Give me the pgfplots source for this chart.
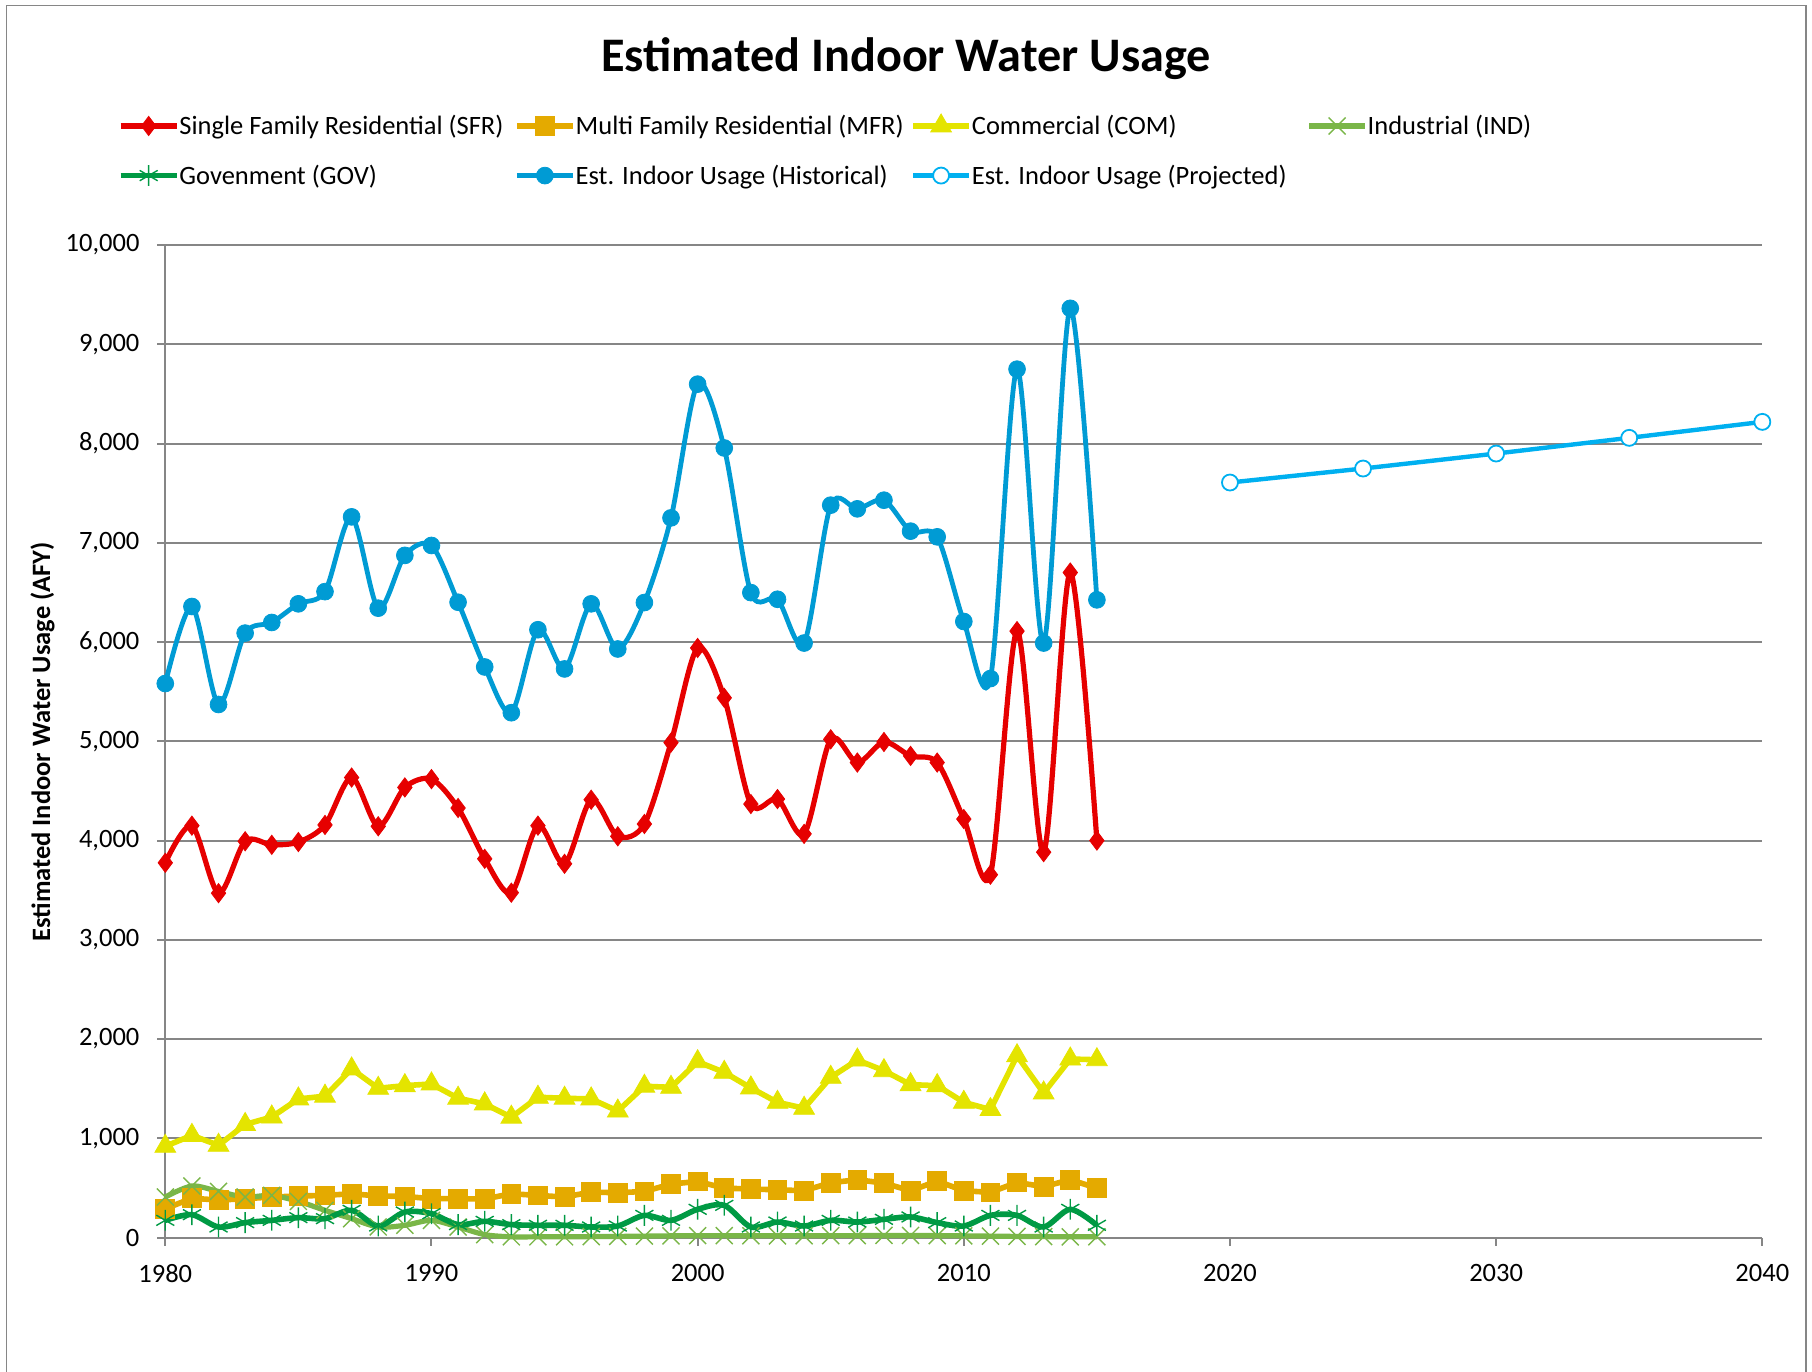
\documentclass[border=0pt]{standalone}
\usepackage{fontspec}
\setmainfont{Carlito}
\usepackage{pgfplots}
\usepackage{pgfplotstable}
\pgfplotsset{compat=1.18}
\usetikzlibrary{calc}

\definecolor{sfrred}{RGB}{230,0,0}
\definecolor{mfrgold}{RGB}{228,170,0}
\definecolor{comyel}{RGB}{228,228,0}
\definecolor{indgreen}{RGB}{122,182,72}
\definecolor{govgreen}{RGB}{0,154,68}
\definecolor{histblue}{RGB}{0,155,212}
\definecolor{projblue}{RGB}{0,176,240}
\definecolor{axisgray}{RGB}{134,134,134}

% estimated indoor water usage (AFY) by sector
\pgfplotstableread{
year sfr  mfr com  ind gov hist
1980 3776 291 920  409 174 5582
1981 4150 397 1030 520 231 6358
1982 3470 378 930  465 107 5371
1983 3993 392 1140 409 151 6090
1984 3957 409 1215 425 174 6197
1985 3985 419 1397 365 201 6385
1986 4157 425 1425 275 191 6508
1987 4635 442 1699 191 275 7261
1988 4144 419 1504 107 117 6341
1989 4535 415 1531 124 258 6873
1990 4619 392 1548 174 241 6973
1991 4328 392 1404 107 131 6401
1992 3816 389 1347 30  164 5749
1993 3475 442 1213 8   131 5288
1994 4150 425 1414 8   124 6124
1995 3766 409 1404 8   124 5729
1996 4411 459 1397 10  107 6385
1997 4043 452 1275 12  117 5930
1998 4167 465 1525 15  224 6398
1999 4987 539 1514 18  174 7251
2000 5940 566 1772 20  285 8598
2001 5438 499 1665 20  325 7955
2002 4368 489 1508 18  107 6498
2003 4418 482 1363 18  157 6431
2004 4067 472 1303 18  117 5990
2005 5020 553 1615 20  174 7379
2006 4786 583 1789 20  157 7342
2007 4993 549 1682 22  184 7429
2008 4853 472 1541 22  208 7117
2009 4786 570 1531 20  151 7060
2010 4217 472 1363 18  117 6207
2011 3656 456 1290 15  224 5632
2012 6110 556 1832 12  224 8749
2013 3883 513 1457 10  107 5990
2014 6700 583 1799 8   285 9362
2015 4000 499 1792 8   124 6425
}\usage

\pgfplotstableread{
year proj
2020 7607
2025 7748
2030 7899
2035 8057
2040 8218
}\projected

\begin{document}
\begin{tikzpicture}
\begin{axis}[
    scale only axis,
    width=798.5pt, height=496.3pt,
    xmin=1980, xmax=2040,
    ymin=0, ymax=10000,
    xtick={1980,1990,...,2040},
    ytick={0,1000,...,10000},
    scaled y ticks=false,
    axis lines*=left,
    axis line style={draw=axisgray, line width=1pt},
    tick style={draw=axisgray, line width=1pt},
    tick align=outside,
    major tick length=4pt,
    ymajorgrids,
    grid style={axisgray, line width=1pt},
    clip=false,
    /pgf/number format/assume math mode=true,
    ticklabel style={font=\fontsize{13.25}{15}\selectfont},
    xticklabel style={/pgf/number format/1000 sep={}, anchor=north, inner sep=0pt, yshift=-9pt},
    yticklabel style={/pgf/number format/1000 sep={,}, anchor=east, inner sep=0pt, xshift=-8.75pt},
    title={Estimated Indoor Water Usage},
    title style={font=\bfseries\fontsize{24.1}{29}\selectfont, at={(axis description cs:0.4638,1.1624)}, anchor=base, yshift=0pt},
    ylabel={Estimated Indoor Water Usage (AFY)},
    every axis y label/.style={at={(axis description cs:-0.0721,0.4994)}, rotate=90, anchor=base,
        font=\bfseries\fontsize{13.25}{15}\selectfont},
    legend columns=4,
    legend cell align=left,
    legend image code/.code={\draw[mark repeat=2,mark phase=2] plot coordinates {(0pt,0pt) (14pt,0pt) (28pt,0pt)};},
    legend style={draw=none, fill=none, inner sep=0pt, outer sep=0pt,
        at={(axis description cs:-0.0297,1.1345)}, anchor=north west,
        font=\fontsize{13.25}{15}\selectfont, row sep=10.3pt,
        nodes={inner xsep=0pt, inner ysep=0pt, text width=167.3pt, text height=11.5pt, text depth=3pt, align=flush left}},
]

\addplot[color=sfrred, line width=2.6pt, smooth, mark=diamond*, mark size=4.8pt,
    mark options={solid, line width=0.4pt}] table[x=year, y=sfr] {\usage};
\addlegendentry{Single Family Residential (SFR)}

\addplot[color=mfrgold, line width=2.8pt, mark=square*, mark size=4.7pt,
    mark options={solid, line width=0.4pt}] table[x=year, y=mfr] {\usage};
\addlegendentry{Multi Family Residential (MFR)}

\addplot[color=comyel, line width=2.8pt, mark=triangle*, mark size=6pt,
    mark options={solid, line width=0.4pt}] table[x=year, y=com] {\usage};
\addlegendentry{Commercial (COM)}

\addplot[color=indgreen, line width=2.6pt, smooth, mark=x, mark size=6pt,
    mark options={solid, line width=0.7pt}] table[x=year, y=ind] {\usage};
\addlegendentry{Industrial (IND)}

\addplot[color=govgreen, line width=2.8pt, smooth, mark=asterisk, mark size=5.2pt,
    mark options={solid, line width=0.7pt}] table[x=year, y=gov] {\usage};
\addlegendentry{Govenment (GOV)}

\addplot[color=histblue, line width=2.4pt, smooth, mark=*, mark size=4.2pt,
    mark options={solid, line width=0.4pt}] table[x=year, y=hist] {\usage};
\addlegendentry{Est. Indoor Usage (Historical)}

\addplot[color=projblue, line width=2.2pt, mark=*, mark size=4pt,
    mark options={solid, fill=white, draw=projblue, line width=0.9pt}] table[x=year, y=proj] {\projected};
\addlegendentry{Est. Indoor Usage (Projected)}

\coordinate (sw) at (rel axis cs:0,0);
\coordinate (ne) at (rel axis cs:1,1);
\end{axis}
\draw[axisgray, line width=0.6pt] ($(sw)+(-79.5pt,-90pt)$) rectangle ($(ne)+(21.85pt,119.85pt)$);
\pgfresetboundingbox
\useasboundingbox ($(sw)+(-82.65pt,-66.7pt)$) rectangle ($(ne)+(24.85pt,122.5pt)$);
\end{tikzpicture}
\end{document}
